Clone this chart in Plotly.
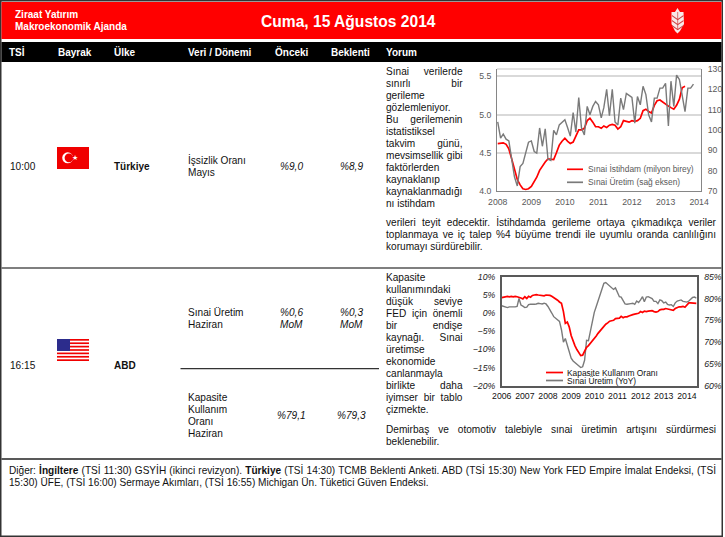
import json
import pandas as pd
import plotly.graph_objects as go

W, H = 725, 537
FONT = "Liberation Sans"

# left chart: Turkey, monthly
tr_uretim = [104, 96, 98, 95.5, 94.6, 85, 77, 72.5, 82, 83.6, 88.6, 94,
             94.6, 89.4, 88.6, 101, 92, 100.6, 85.6, 85, 99.8, 97.6, 102.5, 104,
             105, 101, 97, 108.6, 99, 116, 101, 97.6, 111.6, 107.5, 111.6, 114,
             112.4, 106, 111, 120, 107, 120, 104, 102.5, 115.7, 110, 118, 117,
             116, 103.4, 116.5, 112.4, 121.5, 117.4, 107.5, 104, 115.7, 115.7, 120.6, 120.6,
             123, 102, 124, 111.6, 127, 124.8, 116.5, 109, 120.6, 120.6, 122.6]
tr_istihdam = [4.62, 4.63, 4.63, 4.61, 4.55, 4.42, 4.27, 4.15, 4.08, 4.03, 4.02, 4.03,
               4.06, 4.12, 4.18, 4.27, 4.33, 4.38, 4.42, 4.41, 4.41, 4.50, 4.60, 4.65,
               4.69, 4.65, 4.62, 4.64, 4.72, 4.80, 4.80, 4.82, 4.92, 4.95, 4.90, 4.84,
               4.84, 4.82, 4.85, 4.83, 4.86, 4.87, 4.86, 4.81, 4.84, 4.92, 4.91, 4.90,
               4.92, 4.91, 4.92, 4.95, 5.05, 5.07, 5.04, 5.02, 5.12, 5.18, 5.19, 5.16,
               5.13, 5.11, 5.09, 5.07, 5.12, 5.20, 5.35, 5.37]

# right chart: USA, monthly
us_uretim = [2.0, 1.8, 1.6, 1.5, 1.7, 1.8, 1.7, 1.7, 1.8, 4.0, 2.2, 1.9,
             1.5, 1.6, 2.3, 2.4, 2.3, 2.4, 2.5, 2.7, 2.6, 2.5, 2.7, 2.5,
             1.8, 1.0, 0.0, -1.0, -1.4, -1.8, -2.3, -4.6, -8.0, -7.0, -8.8, -11.0,
             -12.4, -13.2, -13.6, -14.2, -14.5, -15.0, -14.8, -13.0, -7.5, -7.6, -5.0, -2.0,
             0.2, 1.8, 3.4, 5.0, 6.6, 8.2, 8.4, 7.9, 7.4, 7.0, 6.5, 6.9,
             5.5, 4.5, 4.4, 3.6, 2.5, 2.4, 2.4, 2.6, 2.7, 2.4, 3.3, 2.9,
             3.6, 4.5, 3.1, 4.4, 4.5, 4.2, 4.0, 3.2, 3.2, 2.6, 3.6, 3.4,
             2.8, 3.0, 2.4, 2.2, 2.3, 1.8, 2.8, 3.3, 3.4, 3.6, 3.2, 3.2,
             3.0, 3.3, 3.7, 4.3, 4.4, 4.1]
us_kapasite = [80.2, 80.3, 80.4, 80.5, 80.4, 80.5, 80.4, 80.5, 80.4, 80.3, 80.1, 79.9,
               80.4, 80.0, 80.5, 80.3, 80.7, 80.8, 80.9, 80.8, 80.7, 80.7, 80.6, 80.8,
               80.8, 80.7, 80.5, 80.2, 80.0, 79.6, 79.2, 78.9, 77.0, 74.3, 74.6, 73.5,
               71.5, 70.2, 69.2, 68.3, 67.6, 66.9, 67.0, 68.0, 68.8, 69.2, 69.7, 70.2,
               70.8, 71.4, 72.0, 72.6, 73.2, 73.6, 74.1, 74.4, 74.8, 74.9, 75.0, 75.4,
               75.5, 75.5, 75.9, 75.6, 75.8, 75.8, 76.0, 76.2, 76.3, 76.4, 76.5, 76.6,
               77.0, 76.8, 77.1, 77.0, 77.1, 77.2, 77.2, 77.0, 76.9, 77.0, 77.4, 77.5,
               77.5, 77.7, 77.6, 77.6, 77.4, 77.3, 77.7, 77.9, 78.1, 78.1, 78.2, 78.0,
               78.5, 79.0, 79.0, 79.0, 78.9, 78.9]

kolonlar = ["TSİ", "Bayrak", "Ülke", "Veri / Dönemi", "Önceki", "Beklenti", "Yorum"]
kolon_x = [9, 57.5, 114, 188, 274.5, 331, 386]

yorum_tr = ["Sınai verilerde", "sınırlı bir", "gerileme", "gözlemleniyor.", "Bu gerilemenin",
            "istatistiksel", "takvim günü,", "mevsimsellik gibi", "faktörlerden", "kaynaklanıp",
            "kaynaklanmadığı", "nı istihdam"]
yorum_tr2 = ["verileri teyit edecektir. İstihdamda gerileme ortaya çıkmadıkça veriler",
             "toplanmaya ve iç talep %4 büyüme trendi ile uyumlu oranda canlılığını",
             "korumayı sürdürebilir."]
yorum_us = ["Kapasite", "kullanımındaki", "düşük seviye", "FED için önemli", "bir endişe",
            "kaynağı. Sınai", "üretimse", "ekonomide", "canlanmayla", "birlikte daha",
            "iyimser bir tablo", "çizmekte."]
yorum_us2 = ["Demirbaş ve otomotiv talebiyle sınai üretimin artışını sürdürmesi", "beklenebilir."]
diger = ["Diğer: <b>İngiltere</b> (TSİ 11:30) GSYİH (ikinci revizyon). <b>Türkiye</b> (TSİ 14:30) "
         "TCMB Beklenti Anketi. ABD (TSİ 15:30) New York FED Empire İmalat Endeksi, (TSİ",
         "15:30) ÜFE, (TSİ 16:00) Sermaye Akımları, (TSİ 16:55) Michigan Ün. Tüketici Güven Endeksi."]


def px(x):
    return x / W


def py(y):
    return 1 - y / H


shapes = []
notes = []
justify = {}


def rect(x0, y0, x1, y1, color):
    shapes.append(dict(type="rect", xref="paper", yref="paper", x0=px(x0), x1=px(x1),
                       y0=py(y0), y1=py(y1), fillcolor=color, line_width=0, layer="below"))


def hline(x0, x1, y, color, width=1.5):
    shapes.append(dict(type="line", xref="paper", yref="paper", x0=px(x0), x1=px(x1),
                       y0=py(y), y1=py(y), line=dict(color=color, width=width)))


def circle(cx, cy, r, color):
    shapes.append(dict(type="circle", xref="paper", yref="paper", x0=px(cx - r), x1=px(cx + r),
                       y0=py(cy - r), y1=py(cy + r), fillcolor=color, line_width=0))


def poly(points, color):
    path = "M" + " L".join(f"{px(a):.5f},{py(b):.5f}" for a, b in points) + " Z"
    shapes.append(dict(type="path", xref="paper", yref="paper", path=path, fillcolor=color, line_width=0))


def text(x, y, s, size=10.1, color="#111111", anchor="left", bold=False, italic=False, fit=None):
    if bold:
        s = f"<b>{s}</b>"
    if italic:
        s = f"<i>{s}</i>"
    if fit:
        justify[len(notes)] = fit
    # left anchored annotations sit about 1px to the right
    if anchor == "left":
        x -= 1
    notes.append(dict(xref="paper", yref="paper", x=px(x), y=py(y), text=s, showarrow=False,
                      xanchor=anchor, yanchor="middle", align=anchor, borderpad=0,
                      font=dict(family=FONT, size=size, color=color)))


# frame and bands
rect(0, 0, 723, 537, "#333333")
rect(1.5, 1.5, 721.5, 535.5, "white")
rect(1.5, 2, 721.5, 39, "#ff0000")
rect(1.5, 42, 721.5, 62, "#000000")
hline(1.5, 721.5, 268, "#555555")
hline(1.5, 721.5, 459, "#222222")
hline(180.5, 379, 368.7, "#333333", 1.2)

text(15, 14.5, "Ziraat Yatırım", 10, "white", bold=True)
text(15, 26.5, "Makroekonomik Ajanda", 10, "white", bold=True)
text(348, 21, "Cuma, 15 Ağustos 2014", 15.6, "white", "center", bold=True)
for k, kx in zip(kolonlar, kolon_x):
    text(kx, 52.5, k, 10, "white", bold=True)

# wheat logo
poly([(677.5, 8), (680, 12), (683.5, 12), (684, 24), (680, 31), (677.5, 33.5),
      (675, 31), (671.5, 24), (671.5, 12), (675, 12)], "#f8e8e8")
shapes.append(dict(type="line", xref="paper", yref="paper", x0=px(677.7), x1=px(677.7),
                   y0=py(12), y1=py(30), line=dict(color="#d05050", width=0.8)))
for vy in (15, 20, 25):
    poly([(672, vy), (677.7, vy + 4), (683.5, vy), (683.5, vy + 1.2), (677.7, vy + 5.2), (672, vy + 1.2)], "#d04040")

# row 1
text(9.5, 166, "10:00")
text(114, 166, "Türkiye", 10, bold=True)
text(188, 160, "İşsizlik Oranı")
text(188, 172, "Mayıs")
text(291, 166, "%9,0", anchor="center", italic=True)
text(351, 166, "%8,9", anchor="center", italic=True)

# row 2
text(9.5, 365, "16:15")
text(114, 365, "ABD", 10, bold=True)
text(188, 312.5, "Sınai Üretim")
text(188, 324.5, "Haziran")
text(291, 312.5, "%0,6", anchor="center", italic=True)
text(291, 324.5, "MoM", anchor="center", italic=True)
text(351, 312.5, "%0,3", anchor="center", italic=True)
text(351, 324.5, "MoM", anchor="center", italic=True)
for i, s in enumerate(["Kapasite", "Kullanım", "Oranı", "Haziran"]):
    text(188, 397 + 12 * i, s)
text(291, 415, "%79,1", anchor="center", italic=True)
text(351, 415, "%79,3", anchor="center", italic=True)

# comments
for i, s in enumerate(yorum_tr):
    text(386, 71.7 + 12 * i, s, fit=76.5 if " " in s and i < 11 else None)
for i, s in enumerate(yorum_tr2):
    text(386, 222 + 12 * i, s, fit=330 if i < 2 else None)
for i, s in enumerate(yorum_us):
    text(386, 277 + 12 * i, s, fit=76.5 if " " in s else None)
for i, s in enumerate(yorum_us2):
    text(386, 429.5 + 12 * i, s, fit=330 if i < 1 else None)
for i, s in enumerate(diger):
    text(9, 469.5 + 12 * i, s, fit=707 if i < 1 else None)

# flags
rect(57, 147, 89, 169, "#f00000")
circle(67.7, 157.8, 5.5, "white")
circle(69, 157.8, 4.4, "#f00000")
text(74.7, 157.8, "★", 7, "white", "center")

rect(57, 339, 89, 361, "white")
for i in range(0, 13, 2):
    rect(57, 339 + i * 22 / 13, 89, 339 + (i + 1) * 22 / 13, "#f00000")
rect(57, 339, 70, 351, "#2c2c8c")

fig = go.Figure()
tr_aylar = pd.date_range("2008-01-01", periods=len(tr_uretim), freq="MS")
us_aylar = pd.date_range("2006-01-01", periods=len(us_uretim), freq="MS")

fig.add_trace(go.Scatter(x=tr_aylar[:len(tr_istihdam)], y=tr_istihdam, mode="lines", name="Sınai İstihdam (milyon birey)",
                         line=dict(color="#ff0000", width=1.7), xaxis="x", yaxis="y"))
fig.add_trace(go.Scatter(x=tr_aylar, y=tr_uretim, mode="lines", name="Sınai Üretim (sağ eksen)",
                         line=dict(color="#7a7a7a", width=1.4), xaxis="x", yaxis="y2"))
fig.add_trace(go.Scatter(x=us_aylar, y=us_kapasite, mode="lines", name="Kapasite Kullanım Oranı",
                         line=dict(color="#ff0000", width=1.7), xaxis="x2", yaxis="y4"))
fig.add_trace(go.Scatter(x=us_aylar, y=us_uretim, mode="lines", name="Sınai Üretim (YoY)",
                         line=dict(color="#7a7a7a", width=1.4), xaxis="x2", yaxis="y3"))

# keys: rows are closer together than a plotly legend allows
for tr, kx0, kx1, tx, ky, color, fc in [
    (0, 567, 583, 588, 169.3, "#ff0000", "#595959"),
    (1, 567, 583, 588, 182.3, "#7a7a7a", "#595959"),
    (2, 546, 563, 566.7, 372.5, "#ff0000", "#111111"),
    (3, 546, 563, 566.7, 380.5, "#7a7a7a", "#111111"),
]:
    hline(kx0, kx1, ky, color, 1.7)
    text(tx, ky, fig.data[tr].name, 8.4, fc)

gri = dict(family=FONT, size=8.7, color="#595959")
siyah = dict(family=FONT, size=8.7, color="#111111")
siyah_i = dict(family=FONT, size=8.7, color="#222222", style="italic")
bos = "rgba(0,0,0,0)"

hline(497, 701, 69, "#d9d9d9")

fig.update_layout(
    width=W, height=H, margin=dict(l=0, r=0, t=0, b=0, autoexpand=False), paper_bgcolor="white", plot_bgcolor="white",
    shapes=shapes, annotations=notes, hovermode=False, showlegend=False,
    xaxis=dict(domain=[px(497), px(701)], anchor="y", range=["2007-12-24", "2014-01-22"], dtick="M12",
               tick0="2008-01-01", tickformat="%Y", showgrid=False, showline=True, linecolor="#868686",
               linewidth=1, ticks="outside", ticklen=3, tickcolor=bos, tickfont=gri, automargin=False),
    yaxis=dict(domain=[py(191), py(69)], anchor="x", range=[4.0, 5.595], tick0=4, dtick=0.5, tickformat=".1f",
               gridcolor="#d9d9d9", gridwidth=1.5, zeroline=False, showline=True, linecolor="#868686",
               linewidth=1, ticks="outside", ticklen=3, tickcolor=bos, tickfont=gri, automargin=False),
    yaxis2=dict(domain=[py(191), py(69)], anchor="x", overlaying="y", side="right", range=[70, 130], dtick=10,
                showgrid=False, zeroline=False, showline=True, linecolor="#868686", linewidth=1, ticks="outside",
                ticklen=4, tickcolor=bos, tickfont=gri, automargin=False),
    xaxis2=dict(domain=[px(501.7), px(696.7)], anchor="y3", range=["2006-01-01", "2014-06-05"], dtick="M12",
                tick0="2006-01-01", tickformat="%Y", showgrid=False, showline=True, mirror=True, linecolor="#595959",
                linewidth=1.5, ticks="outside", ticklen=1, tickcolor=bos, tickfont=siyah, automargin=False),
    yaxis3=dict(domain=[py(385.7), py(276.7)], anchor="x2", range=[-20, 10], dtick=5, ticksuffix="%", showgrid=False,
                zeroline=False, showline=True, linecolor="#595959", linewidth=1.5, ticks="outside", ticklen=3,
                tickcolor=bos, tickfont=siyah_i, automargin=False),
    yaxis4=dict(domain=[py(385.7), py(276.7)], anchor="x2", overlaying="y3", side="right", range=[60, 85], dtick=5,
                ticksuffix="%", showgrid=False, zeroline=False, showline=True, linecolor="#595959", linewidth=1.5,
                ticks="outside", ticklen=4, tickcolor=bos, tickfont=siyah_i, automargin=False),
)

# svg text can't justify by itself, widen the word gaps after drawing
post = """
document.body.style.margin = '0';
var fit = %s;
Object.keys(fit).forEach(function (i) {
    var t = document.querySelector('.annotation[data-index="' + i + '"] text');
    if (!t) return;
    var gaps = t.textContent.trim().split(/\\s+/).length - 1;
    t.style.wordSpacing = Math.max(0, (fit[i] - t.getComputedTextLength()) / gaps) + 'px';
});
""" % json.dumps(justify)

fig.write_html("out.html", post_script=post, config={"displayModeBar": False})
